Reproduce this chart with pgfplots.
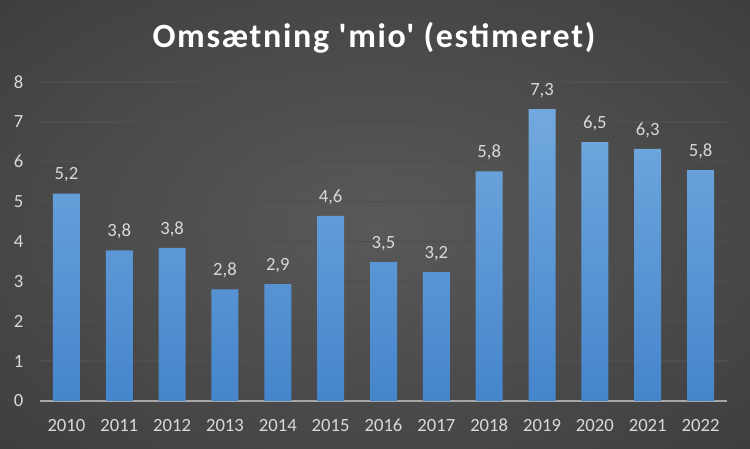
\documentclass[border=0pt]{standalone}
\usepackage{pgfplots}
\pgfplotsset{compat=1.18}
\usepackage{pgfplotstable}
\usepackage{fontspec}
\setmainfont{Carlito}
\newfontfamily\titlefont{Carlito}[Ligatures=TeXOff, LetterSpace=5]

\definecolor{bgin}{HTML}{595959}
\definecolor{bgout}{HTML}{232323}
\definecolor{gridc}{HTML}{4E4E4E}
\definecolor{zeroc}{HTML}{A6A6A6}
\definecolor{txt}{HTML}{D9D9D9}
\definecolor{bartop}{HTML}{72A9DE}
\definecolor{barbot}{HTML}{4585CC}

\pgfdeclareradialshading{bgshade}{\pgfpoint{0bp}{0bp}}{color(0bp)=(bgin); color(72bp)=(bgout)}

% revenue in millions, estimated
\pgfplotstableread{
x y lbl
0 5.20 5,2
1 3.78 3,8
2 3.84 3,8
3 2.80 2,8
4 2.93 2,9
5 4.64 4,6
6 3.48 3,5
7 3.23 3,2
8 5.76 5,8
9 7.32 7,3
10 6.49 6,5
11 6.32 6,3
12 5.79 5,8
}\omsaetning

\begin{document}
\begin{tikzpicture}
\shade[shading=bgshade] (0,0) rectangle (562.5pt,336.75pt);
\node[font=\titlefont\fontsize{25.5}{28}\selectfont\bfseries, text=black!70, opacity=0.6] at (282pt,307pt) {Omsætning 'mio' (estimeret)};
\node[font=\titlefont\fontsize{25.5}{28}\selectfont\bfseries, text=white] at (280.5pt,308.5pt) {Omsætning 'mio' (estimeret)};
\begin{axis}[
  at={(30pt,36pt)}, anchor=south west,
  scale only axis,
  width=515.25pt, height=239.25pt,
  xmin=-0.5, xmax=12.5,
  ymin=0, ymax=8,
  axis line style={draw=none},
  major tick length=0pt,
  xtick={0,...,12},
  xticklabels={2010,2011,2012,2013,2014,2015,2016,2017,2018,2019,2020,2021,2022},
  ytick={0,...,8},
  yticklabels={0,1,2,3,4,5,6,7,8},
  ymajorgrids,
  grid style={draw=gridc, line width=1.1pt},
  extra y ticks={0},
  extra y tick labels={},
  extra y tick style={grid style={draw=zeroc, line width=1.5pt}},
  tick label style={text=txt, font=\fontsize{14}{16}\selectfont},
  yticklabel style={xshift=-9pt},
  xticklabel style={yshift=-10pt},
  nodes near coords,
  point meta=explicit symbolic,
  every node near coord/.append style={text=txt, font=\fontsize{14}{16}\selectfont, yshift=5pt},
]
\addplot[ybar, bar width=20.25pt, draw=none, top color=bartop, bottom color=barbot]
  table[x=x, y=y, meta=lbl] {\omsaetning};
\end{axis}
\end{tikzpicture}
\end{document}
